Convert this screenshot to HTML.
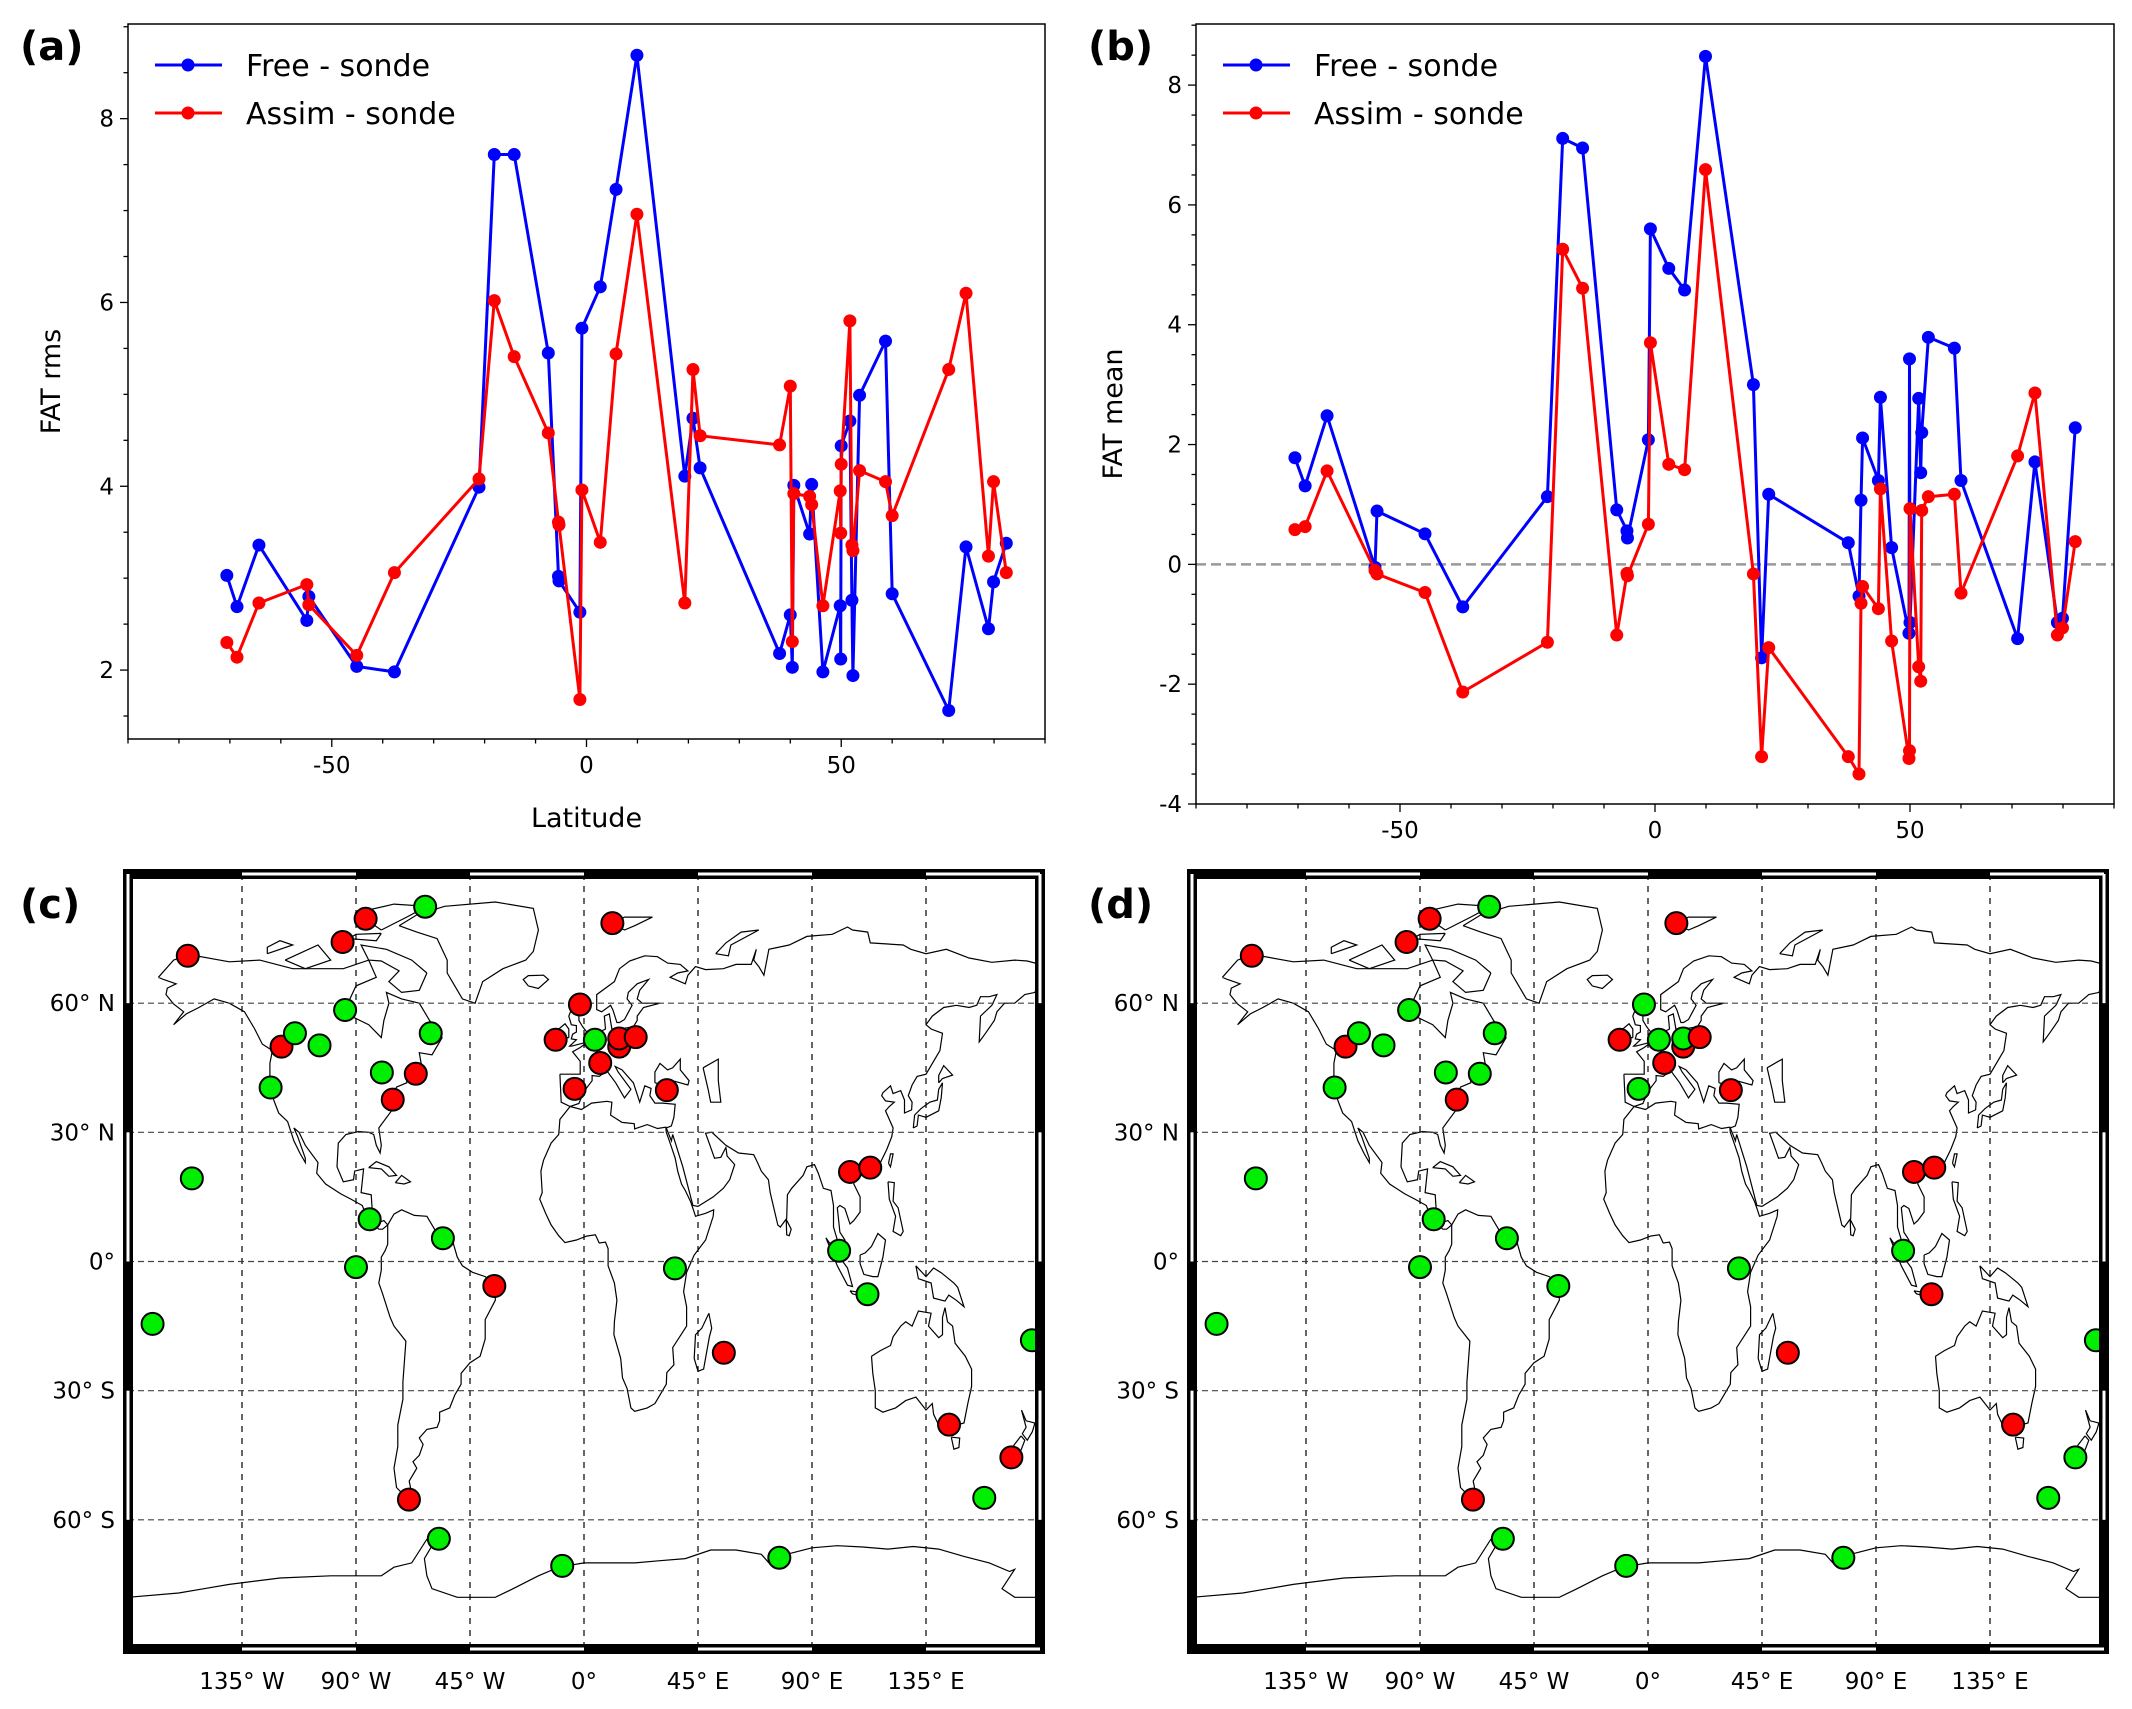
<!DOCTYPE html>
<html><head><meta charset="utf-8">
<style>
html,body{margin:0;padding:0;background:#fff;}
svg{display:block;font-family:"DejaVu Sans","Liberation Sans",sans-serif;}
</style></head>
<body>
<svg id="fig" width="2132" height="1709" viewBox="0 0 2132 1709" xmlns="http://www.w3.org/2000/svg"></svg>
<script>
// ---------- data ----------
const lats = [-70.6,-68.6,-64.3,-54.9,-54.5,-45.1,-37.7,-21.1,-18.1,-14.2,-7.5,-5.5,-5.4,-1.3,-0.9,2.7,5.8,9.9,19.3,20.9,22.3,37.9,40.0,40.4,40.7,43.8,44.2,46.4,49.8,49.9,50.0,51.7,52.1,52.3,53.6,58.7,60.0,71.1,74.5,78.9,79.9,82.4];
const freeRms = [3.03,2.69,3.36,2.54,2.80,2.04,1.98,3.99,7.61,7.61,5.45,3.02,2.97,2.63,5.72,6.17,7.23,8.69,4.11,4.74,4.20,2.18,2.60,2.03,4.01,3.48,4.02,1.98,2.70,2.12,4.44,4.71,2.76,1.94,4.99,5.58,2.83,1.56,3.34,2.45,2.96,3.38];
const assimRms = [2.30,2.14,2.73,2.93,2.71,2.16,3.06,4.08,6.02,5.41,4.58,3.61,3.58,1.68,3.96,3.39,5.44,6.96,2.73,5.27,4.55,4.45,5.09,2.31,3.92,3.89,3.80,2.70,3.95,3.49,4.24,5.80,3.36,3.30,4.17,4.05,3.68,5.27,6.10,3.24,4.05,3.06];
const freeMean = [1.78,1.31,2.48,-0.05,0.89,0.51,-0.71,1.13,7.11,6.95,0.91,0.56,0.44,2.08,5.60,4.94,4.58,8.48,3.00,-1.56,1.17,0.36,-0.53,1.07,2.11,1.40,2.79,0.28,-1.15,3.43,-0.97,2.77,1.53,2.20,3.79,3.61,1.40,-1.24,1.71,-0.97,-0.90,2.28];
const assimMean = [0.58,0.63,1.56,-0.10,-0.16,-0.47,-2.13,-1.30,5.26,4.61,-1.18,-0.15,-0.19,0.67,3.70,1.67,1.58,6.59,-0.16,-3.21,-1.39,-3.21,-3.50,-0.65,-0.37,-0.74,1.26,-1.28,-3.24,-3.11,0.93,-1.71,-1.95,0.90,1.13,1.17,-0.48,1.81,2.86,-1.18,-1.06,0.38];
const xTicks = [-50,0,50];
const rmsTicks = [2,4,6,8];
const meanTicks = [-4,-2,0,2,4,6,8];
const stLon = [-156.4,-154.8,-170.3,-123.7,-119.4,-114.1,-104.4,-95.3,-86.2,-94.3,-62.7,-79.8,-75.5,-66.4,-60.5,-84.6,-90.0,-55.7,-35.4,-69.1,-57.3,-8.6,77.1,11.2,-1.6,-11.2,4.3,6.4,-3.7,13.9,13.9,20.4,32.7,35.9,55.2,100.7,105.0,113.0,111.9,144.1,168.7,158.0,176.8];
const stLat = [71.0,19.3,-14.5,40.4,49.9,53.0,50.2,74.2,79.6,58.4,82.4,43.9,37.6,43.6,53.0,9.8,-1.3,5.4,-5.7,-55.3,-64.4,-70.7,-68.8,78.6,59.7,51.5,51.5,46.1,40.1,49.9,51.8,52.1,39.8,-1.6,-21.2,2.5,20.8,21.8,-7.6,-37.9,-45.5,-54.9,-18.3];
const colC = "RGGGRGGRRGGGRRGGGGRRGGGRRRGRRRRRRGRGRRGRRGG";
const colD = "RGGGRGGRRGGGRGGGGGGRGGGRGRGRGRGRRGRGRRRRGGG";
const lonTicks = [-135,-90,-45,0,45,90,135];
const lonLabels = ["135° W","90° W","45° W","0°","45° E","90° E","135° E"];
const latTicks = [60,30,0,-30,-60];
const latLabels = ["60° N","30° N","0°","30° S","60° S"];

const coasts = [
[[-168,66],[-162,70],[-156,71.3],[-140,69.6],[-128,70],[-115,68],[-95,68],[-85,70],[-82,66],[-90,64],[-94,59],[-92,57],[-85,55],[-80,52],[-79,56],[-77,60],[-78,62.5],[-72,61],[-65,60],[-61,56],[-56,52],[-60,48],[-65,48.5],[-64,45],[-70,43.5],[-70,41.5],[-74,40.5],[-76,37],[-76,35],[-81,31],[-80,27],[-80.5,25.2],[-82,27],[-83,29.5],[-85,30],[-89,30.2],[-94,29.5],[-97,27.5],[-97.5,22],[-95,18.5],[-91,19],[-90.5,21],[-87,21.5],[-88,16],[-84,15.5],[-83.5,11],[-81.5,9],[-79,9.5],[-77.5,8.5],[-79.5,7.5],[-81,7.5],[-85.5,10],[-87.5,13],[-92,14.5],[-96,15.7],[-102,18],[-105.5,20.5],[-105,23],[-110,27],[-112.5,30],[-114.5,31],[-113,29],[-110,24],[-110,23],[-112,25],[-114.5,28],[-117,32.5],[-120.5,34.5],[-122.5,37.5],[-124,40.5],[-124,46],[-123,49],[-127,50.5],[-130,54],[-134,58],[-140,60],[-146,61],[-152,59],[-157,57.5],[-162,55],[-158,58],[-162,59.8],[-165,62],[-164.5,63.5],[-161,64.5],[-166,65.5],[-168,66]],
[[-77.5,8.5],[-75,11],[-72,12],[-67,10.7],[-62,10.5],[-58,6.5],[-52,5],[-50,1],[-48,-1],[-44,-2.5],[-39,-3.5],[-35,-5.5],[-35,-9],[-39,-13.5],[-39,-18],[-41,-22],[-45,-23.5],[-48.5,-26],[-48.5,-28.5],[-51,-31],[-53,-34],[-57,-35],[-57,-37],[-58,-38.5],[-62,-39],[-65,-41],[-63.5,-42.5],[-65,-45],[-67.5,-46.5],[-66,-48],[-69,-51],[-68.5,-52.5],[-70,-53.5],[-71.5,-54],[-74,-52.5],[-75,-48],[-73.5,-43],[-73.5,-38],[-71.5,-32],[-71.5,-28],[-70.3,-18.5],[-75,-15],[-76.5,-13],[-79.5,-7.5],[-81,-5],[-80,-2],[-80,1],[-78.5,2.5],[-77.5,4],[-77.5,8.5]],
[[-73,78],[-66,80.5],[-55,82.5],[-35,83.5],[-20,82],[-18,77],[-20,72],[-23,70],[-32,68],[-40,65],[-43,60],[-48,61],[-51,64],[-54,67],[-54,70],[-58,75],[-66,76.5],[-73,78]],
[[-9.5,43.5],[-9,37],[-5.5,36],[-2,36.7],[0,39.5],[3.2,42],[3.2,43.2],[6,43],[9,44.3],[12.5,41.5],[16,38],[18.5,40],[13.5,44],[12.3,45.3],[15,44.5],[19.5,41.5],[22,37],[24,40.8],[26.5,40.2],[26,38.5],[28,36.8],[31,36.8],[36,36.5],[35.5,33.5],[34.5,31.5],[32.5,31],[34.5,28],[35,29.5],[39,22],[43,13],[45,12.8],[51,15],[55,17],[57.5,19],[59.5,22.5],[56.5,24.5],[56,26.5],[54,24.2],[51.5,24],[50,26.5],[48,29.8],[50.5,30],[56,27],[61,25.2],[67,24.8],[68.5,23],[70,21],[72.8,19],[73.5,16],[76.5,8.5],[77.5,8],[80,10],[80.3,15.5],[82,17],[86.5,20],[88,22],[91,22.5],[92.5,20.5],[94.5,17],[97.5,16.5],[98.5,13],[98.5,8],[100.5,4],[103.5,1.3],[104,2],[103,5],[101,6.8],[100,12.5],[101,13],[103,12.3],[105,8.7],[106.5,9.5],[109,11.5],[109,15],[106.5,18],[106.5,20],[108,21.5],[110,21],[113,22],[117,23],[119.5,26],[121.5,29],[122,31],[120.5,33],[119,35],[120.5,36],[122.5,37],[119,37.3],[117.5,38.5],[118,39.2],[121,40.8],[122,39],[125,39.7],[126.5,37.5],[126.5,34.5],[129.3,35.2],[129.5,37],[128,38.5],[129.5,41],[131.5,43],[135,43.5],[138,46.5],[140.5,49],[141.5,53],[137,54],[135,55],[137.5,57],[142,59],[147,59.5],[152,59],[155,59.5],[156.5,61.5],[160,61.5],[163,62],[161,59.5],[156.5,57],[156,51],[158.5,53],[162,56],[163,58],[166,60],[170,60],[174,62],[178,62.5],[179.5,64.5],[180,65],[180,69],[175,69.8],[170,70],[161,69.5],[152,70.5],[143,72.5],[135,71.5],[129,72.5],[126,73.5],[113,74],[112,76.5],[106,77],[104,77.7],[98,76],[88,75.5],[81,73.5],[73,72.5],[71,66.5],[69,68.5],[67,70],[68,72.5],[66,69],[60,69],[55,68],[48,67.8],[44,68.5],[41,66.5],[40,64.5],[34,66],[37,67],[41,67.5],[38,69],[33,69.3],[29,70.8],[24,71],[18,69.8],[14,68],[12,65],[5,62],[5,58.5],[7,58],[10.5,59.5],[11.5,58.3],[13,55.5],[14,55.5],[16,56.2],[19,59.5],[17,61],[17.5,62.5],[21,64.5],[25.5,65.5],[22,63],[21,61],[23,60],[30,60],[23.5,59],[21,57],[21,56],[19.5,54.5],[14,54],[11,54],[10,57.5],[8,57],[8.5,54],[5,53],[3.5,51.5],[1.5,51],[-1.5,49.7],[-4.5,48.7],[-1.5,46.5],[-1.5,43.5],[-9.5,43.5]],
[[-5.5,36],[-9.5,33],[-10,29.5],[-13,27.5],[-16,23.5],[-17,21],[-16.5,16],[-17.5,14.5],[-15,11],[-13,8.5],[-10,6],[-7.5,4.4],[-3,5],[1,5.9],[4.5,6.2],[6,4.3],[8.5,4.5],[9.5,3],[9.5,-1],[12,-5],[13,-9],[12,-14],[11.8,-17],[14.5,-22.5],[15.2,-27],[17,-29.5],[18.5,-34],[20,-34.8],[25,-34],[28,-33],[32.5,-28.5],[32.7,-25.8],[35.5,-24],[35,-20],[40.5,-15],[40.5,-10.5],[39.3,-7],[40.5,-2.5],[43.5,1.5],[48,5],[51,10.5],[51.2,12],[48,11.2],[44,10.5],[43.2,12],[42,14],[40,16.5],[38.5,18],[37,21],[36,24],[34,27.5],[32.5,30],[32.3,31.2],[29,30.9],[25,31.8],[20,30.8],[19.8,32],[15,32.3],[10.5,34],[11,37],[9,37.2],[3,36.8],[-1,35.3],[-5.5,36]],
[[49.3,-12],[50.4,-15.5],[49.5,-17.5],[47.2,-25],[45,-25.5],[43.5,-22.5],[44,-17],[46.5,-15.5],[49.3,-12]],
[[113.5,-22],[114,-26],[115,-30],[115,-34],[118,-35],[123,-34],[127,-32.3],[131,-31.5],[135,-34.5],[137.5,-33],[138,-35.5],[140,-38],[144,-38.5],[147,-38],[150,-37.5],[151.5,-33],[153,-29],[153,-25],[150.5,-22],[146.5,-19],[145.5,-15],[143.5,-14],[142.5,-10.7],[141.5,-13],[141.5,-17],[140,-17.7],[136,-15],[137,-12],[132,-11.5],[129.5,-15],[127,-14],[125,-15],[122,-17.5],[121,-19.5],[117,-20.7],[113.5,-22]],
[[145,-40.8],[148.3,-41],[148,-43.2],[146,-43.6],[145,-40.8]],
[[-180,-78],[-160,-77],[-150,-76],[-140,-75],[-120,-73.5],[-100,-73],[-80,-73],[-75,-71],[-68,-70],[-62,-64.5],[-58,-63.5],[-60,-66],[-63,-69],[-62,-73],[-60,-76],[-50,-78],[-35,-78],[-28,-76],[-18,-73],[-10,-71],[0,-70],[10,-70],[20,-70],[30,-69.5],[40,-69],[50,-67],[60,-67],[70,-68],[73,-70],[80,-68],[90,-66.5],[100,-66],[110,-66.3],[120,-66.8],[130,-66.2],[140,-66.8],[150,-68.5],[160,-70],[168,-72],[170,-71.5],[165,-76],[170,-78],[180,-78]],
[[-5,50],[1.5,51],[1.5,53],[-0.5,54.5],[-2,56],[-2,57.6],[-4,58.6],[-5,58.5],[-6,57],[-5,55],[-3,54.8],[-3,53.3],[-4.5,52.8],[-5,51.7],[-3,51.5],[-5.7,50],[-5,50]],
[[-6,52],[-6,54],[-7.5,55.2],[-10,54],[-10,52],[-6,52]],
[[130,31],[131.5,31.5],[132,34],[135,33.5],[140,35],[141,38],[141.5,41.5],[140,40],[139.5,37.5],[136.5,37],[133,35.5],[130.5,34],[130,31]],
[[140,41.5],[141.5,42.5],[145.5,43.3],[142,45.5],[140,43.2],[140,41.5]],
[[109,1.5],[111,2],[113.5,3.5],[116,6.5],[119,5],[118,1],[116,-3.5],[114,-3.5],[110.5,-3],[109,-0.5],[109,1.5]],
[[95.5,5.5],[98.5,3],[104,-1.5],[106,-5.8],[104,-5.5],[100,-1],[95.5,5.5]],
[[105,-6.8],[114.5,-7.7],[114.5,-8.8],[106,-7.5],[105,-6.8]],
[[131,-1],[135,-3.5],[138,-1.5],[141,-2.6],[146,-5],[147.5,-6],[150,-10.5],[147,-9],[144,-7.8],[142.5,-9.2],[138,-8.5],[137,-5],[132,-4],[131,-1]],
[[172.7,-34.5],[174.5,-37],[178,-37.5],[177,-39.5],[175,-41.5],[173,-40],[174.5,-38.5],[172.7,-34.5]],
[[172.5,-40.5],[174,-41.5],[172.5,-43.8],[171,-45],[169,-46.6],[166.5,-46],[168,-44],[172.5,-40.5]],
[[120,18.5],[122.5,18.3],[122,14],[124,12.5],[126,7],[125,6],[122,7],[123,10.5],[120.5,14.5],[120,18.5]],
[[120.2,22.8],[121,25],[122,25],[121,22],[120.2,22.8]],
[[-62,67],[-68,70],[-78,72.5],[-88,73.5],[-85,70],[-80,69.8],[-73,67.5],[-77,65],[-72,62.5],[-65,63],[-62,67]],
[[-118,70],[-105,73.5],[-100,70],[-110,68],[-118,70]],
[[-80,77],[-90,81],[-75,83],[-62,82.5],[-70,80],[-80,77]],
[[-125,71.5],[-115,73.5],[-120,74.5],[-125,73],[-125,71.5]],
[[-80,76.2],[-90,76],[-93,75],[-82,74.5],[-80,76.2]],
[[11,78.5],[16,80],[27,80],[20,78],[16,77],[11,78.5]],
[[52,71.5],[56,74],[62,76.5],[69,77],[58,73.5],[57,71],[52,71.5]],
[[-22,64],[-24,65.5],[-22,66.4],[-16,66.5],[-14,65.5],[-18,63.4],[-22,64]],
[[47,45],[53,47],[53,42],[54,37],[50,37],[49,40],[47,45]],
[[28,41.5],[28,44],[30,46],[33,44.5],[35,45],[38,47],[38,44.5],[41.5,42],[41,41],[35,42],[31,41.1],[28,41.5]],
[[-85,21.8],[-82,23.2],[-77,22],[-74,20],[-77,19.8],[-80,21.5],[-85,21.8]],
[[-74.5,18.3],[-72,20],[-68.5,18.5],[-71,18],[-74.5,18.3]],
[[79.8,9.8],[81.8,7.5],[81,6],[80,6.2],[79.8,9.8]]
];

// ---------- helpers ----------
const NS = "http://www.w3.org/2000/svg";
const svg = document.getElementById('fig');
function mk(tag, attrs, parent) {
  const e = document.createElementNS(NS, tag);
  for (const k in attrs) e.setAttribute(k, attrs[k]);
  (parent || svg).appendChild(e);
  return e;
}

// ---------- line panels ----------
function linePanel(opt) {
  const g = mk('g', {});
  
  
  const L = opt.L, R = opt.R, T = opt.T, B = opt.B;
  const sx = v => L + (v + 90) / 180 * (R - L);
  const sy = v => B - (v - opt.ymin) / (opt.ymax - opt.ymin) * (B - T);
  if (opt.zero) {
    const z = mk('line', {x1: L, x2: R, y1: sy(0), y2: sy(0), stroke: '#999', 'stroke-width': 2.5, 'stroke-dasharray': '10,5'}, g);
    
    
  }
  const series = [[opt.s1, '#0000ff', 'free-minus-sonde-line'], [opt.s2, '#ff0000', 'assim-minus-sonde-line']];
  series.forEach(s => {
    const pts = lats.map((la, i) => sx(la).toFixed(1) + ',' + sy(s[0][i]).toFixed(1)).join(' ');
    const pl = mk('polyline', {points: pts, fill: 'none', stroke: s[1], 'stroke-width': 3, 'stroke-linejoin': 'round'}, g);
    
    
    lats.forEach((la, i) => {
      const c = mk('circle', {cx: sx(la), cy: sy(s[0][i]), r: 6.5, fill: s[1]}, g);
      
      
    });
  });
  const frame = mk('rect', {x: L, y: T, width: R - L, height: B - T, fill: 'none', stroke: '#000', 'stroke-width': 1.5}, g);
  
  
  for (let v = -90; v <= 90; v += 10) {
    const maj = xTicks.indexOf(v) >= 0;
    mk('line', {x1: sx(v), x2: sx(v), y1: B, y2: B + (maj ? 8 : 4.5), stroke: '#000', 'stroke-width': 1.3}, g);
  }
  xTicks.forEach(v => {
    const t = mk('text', {x: sx(v), y: B + 34, 'font-size': 23, 'text-anchor': 'middle'}, g);
    
    
    t.textContent = v;
  });
  for (let v = Math.ceil(opt.ymin * 2) / 2; v <= opt.ymax; v += 0.5) {
    const maj = opt.yTicks.indexOf(v) >= 0;
    mk('line', {x1: L, x2: L - (maj ? 8 : 4.5), y1: sy(v), y2: sy(v), stroke: '#000', 'stroke-width': 1.3}, g);
  }
  opt.yTicks.forEach(v => {
    const t = mk('text', {x: L - 14, y: sy(v) + 8, 'font-size': 23, 'text-anchor': 'end'}, g);
    
    
    t.textContent = v;
  });
  const yl = mk('text', {x: 0, y: 0, 'font-size': 27, 'text-anchor': 'middle', transform: `translate(${opt.ylx},${(T + B) / 2}) rotate(-90)`}, g);
  
  
  yl.textContent = opt.ylabel;
  if (opt.xlabel) {
    const xl = mk('text', {x: (L + R) / 2, y: B + 88, 'font-size': 27, 'text-anchor': 'middle'}, g);
    
    
    xl.textContent = opt.xlabel;
  }
  [['Free - sonde', '#0000ff', 65], ['Assim - sonde', '#ff0000', 113]].forEach(e => {
    const lg = mk('g', {}, g);
    
    
    mk('line', {x1: L + 27, x2: L + 94, y1: e[2], y2: e[2], stroke: e[1], 'stroke-width': 3}, lg);
    mk('circle', {cx: L + 60, cy: e[2], r: 6.5, fill: e[1]}, lg);
    const t = mk('text', {x: L + 118, y: e[2] + 11, 'font-size': 30}, lg);
    t.textContent = e[0];
  });
  const pl = mk('text', {x: opt.plx, y: 60, 'font-size': 40, 'font-weight': 'bold'}, g);
  
  
  pl.textContent = opt.label;
}

linePanel({name: 'panel-a-rms-chart', L: 128, R: 1045, T: 24, B: 739, ymin: 1.25, ymax: 9.03, s1: freeRms, s2: assimRms, yTicks: rmsTicks, ylabel: 'FAT rms', xlabel: 'Latitude', ylx: 60, label: '(a)', plx: 20});
linePanel({name: 'panel-b-mean-chart', L: 1196, R: 2114, T: 24, B: 804, ymin: -4, ymax: 9.02, s1: freeMean, s2: assimMean, yTicks: meanTicks, ylabel: 'FAT mean', xlabel: null, ylx: 1122, label: '(b)', plx: 1088, zero: true});

// ---------- maps ----------
function mapPanel(name, ox, cols, label) {
  const L = 128 + ox, R = 1040 + ox, T = 874, B = 1649;
  const g = mk('g', {});
  
  
  const px = lo => L + (lo + 180) / 360 * (R - L);
  const py = la => T + (90 - la) / 180 * (B - T);
  const cid = 'clip' + ox;
  const cp = mk('clipPath', {id: cid}, g);
  mk('rect', {x: L, y: T, width: R - L, height: B - T}, cp);
  const inner = mk('g', {'clip-path': `url(#${cid})`}, g);
  coasts.forEach(c => {
    const p = mk('polyline', {points: c.map(q => px(q[0]).toFixed(1) + ',' + py(q[1]).toFixed(1)).join(' '), fill: 'none', stroke: '#000', 'stroke-width': 1.2}, inner);
    
    
  });
  lonTicks.forEach(v => {
    const l = mk('line', {x1: px(v), x2: px(v), y1: T, y2: B, stroke: '#000', 'stroke-width': 1.2, 'stroke-dasharray': '6,6'}, inner);
    
    
  });
  latTicks.forEach(v => {
    const l = mk('line', {x1: L, x2: R, y1: py(v), y2: py(v), stroke: '#444', 'stroke-width': 1.2, 'stroke-dasharray': '6,4'}, inner);
    
    
  });
  stLon.forEach((lo, i) => {
    const c = mk('circle', {cx: px(lo), cy: py(stLat[i]), r: 11, fill: cols[i] === 'R' ? '#ff0000' : '#00ee00', stroke: '#000', 'stroke-width': 2}, inner);
    
    
  });
  // fancy frame
  const fr = mk('g', {}, g);
  
  
  mk('rect', {x: L, y: T, width: R - L, height: B - T, fill: 'none', stroke: '#000', 'stroke-width': 10}, fr);
  for (let lo = -135; lo < 180; lo += 90) {
    mk('rect', {x: px(lo), y: T - 1.5, width: px(lo + 45) - px(lo), height: 3, fill: '#fff'}, fr);
    mk('rect', {x: px(lo), y: B - 1.5, width: px(lo + 45) - px(lo), height: 3, fill: '#fff'}, fr);
  }
  for (let la = 90; la > -90; la -= 60) {
    mk('rect', {x: L - 1.5, y: py(la), width: 3, height: py(la - 30) - py(la), fill: '#fff'}, fr);
    mk('rect', {x: R - 1.5, y: py(la), width: 3, height: py(la - 30) - py(la), fill: '#fff'}, fr);
  }
  lonTicks.forEach((v, i) => {
    const t = mk('text', {x: px(v), y: B + 40, 'font-size': 23, 'text-anchor': 'middle'}, g);
    
    
    t.textContent = lonLabels[i];
  });
  latTicks.forEach((v, i) => {
    const t = mk('text', {x: L - 13, y: py(v) + 8, 'font-size': 23, 'text-anchor': 'end'}, g);
    
    
    t.textContent = latLabels[i];
  });
  const pl = mk('text', {x: ox === 0 ? 20 : 1088, y: 918, 'font-size': 40, 'font-weight': 'bold'}, g);
  
  
  pl.textContent = label;
}
mapPanel('panel-c-map', 0, colC, '(c)');
mapPanel('panel-d-map', 1064, colD, '(d)');
</script>
</body></html>
